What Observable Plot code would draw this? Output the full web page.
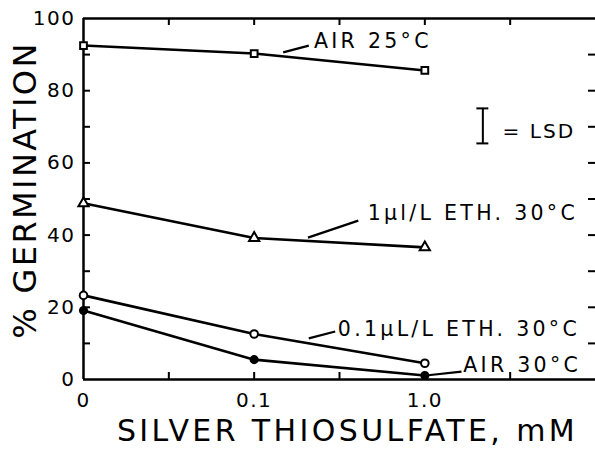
<!DOCTYPE html>
<html>
<head>
<meta charset="utf-8">
<script src="https://cdn.jsdelivr.net/npm/d3@7"></script>
<script src="https://cdn.jsdelivr.net/npm/@observablehq/plot@0.6"></script>
<style>
  html, body { margin: 0; padding: 0; background: #fff; }
  #chart svg { display: block; }
</style>
</head>
<body>
<div id="chart"></div>
<script>
// ---- data ----
const categories = ["0", "0.1", "1.0"];
const seriesNames = ["AIR 25°C", "1µl/L ETH. 30°C", "0.1µL/L ETH. 30°C", "AIR 30°C"];
const air25 = [92.5, 90.3, 85.6];
const eth1 = [48.8, 39.2, 36.6];
const eth01 = [23.3, 12.6, 4.5];
const air30 = [19.1, 5.5, 1.1];
const yLabelTicks = [0, 20, 40, 60, 80, 100];
const yMinorTicks = [10, 20, 30, 40, 50, 60, 70, 80, 90];
const xMinorTicks = [1, 2, 3, 4, 5];
// annotation labels (data units: category slot, % germination)
const labelX = [2.70, 3.33, 2.98, 4.45];
const labelY = [93.6, 46.0, 13.9, 3.9];
const leaderX1 = [2.34, 2.63, 2.64, 4.01];
const leaderY1 = [90.6, 39.3, 11.4, 1.1];
const leaderX2 = [2.64, 3.22, 2.95, 4.43];
const leaderY2 = [92.5, 44.0, 13.3, 2.2];
const lsd = {x: 4.68, low: 65.4, high: 75.1, textX: 4.91, textY: 68.7};

// ---- build ----
const allSeries = [air25, eth1, eth01, air30];
const rows = allSeries.flatMap((vals, s) =>
  vals.map((v, i) => ({series: seriesNames[s], slot: 2 * i, value: v}))
);
const labels = seriesNames.map((t, i) => ({text: t, x: labelX[i], y: labelY[i]}));
const leaders = seriesNames.map((t, i) => ({x1: leaderX1[i], y1: leaderY1[i], x2: leaderX2[i], y2: leaderY2[i]}));
const symbols = {"AIR 25°C": "square", "1µl/L ETH. 30°C": "triangle", "0.1µL/L ETH. 30°C": "circle", "AIR 30°C": "circle"};

const width = 595, height = 454;
const margin = {left: 83, right: 0, top: 18, bottom: 75};
const innerW = width - margin.left - margin.right;
const innerH = height - margin.top - margin.bottom;
const tick = 7;

const chart = Plot.plot({
  width, height,
  marginLeft: margin.left, marginRight: margin.right, marginTop: margin.top, marginBottom: margin.bottom,
  style: {fontFamily: "DejaVu Sans", background: "#fff", color: "#000", overflow: "visible"},
  x: {domain: [0, 6], label: null},
  y: {domain: [0, 100], label: null},
  marks: [
    // frame
    Plot.ruleX([0], {stroke: "#000", strokeWidth: 2.5}),
    Plot.ruleY([0, 100], {stroke: "#000", strokeWidth: 2.5}),
    // inward ticks
    Plot.tickY(yMinorTicks, {y: d => d, insetRight: innerW - tick, strokeWidth: 2}),
    Plot.tickY(yMinorTicks, {y: d => d, insetLeft: innerW - tick, strokeWidth: 2}),
    Plot.tickX(xMinorTicks, {x: d => d, insetTop: innerH - tick, strokeWidth: 2}),
    Plot.tickX(xMinorTicks, {x: d => d, insetBottom: innerH - tick, strokeWidth: 2}),
    // tick labels
    Plot.axisY(yLabelTicks, {tickSize: 0, tickPadding: 8, fontSize: 20, label: null}),
    Plot.axisX([0, 2, 4], {tickSize: 0, tickPadding: 13, fontSize: 20, label: null, tickFormat: d => categories[d / 2]}),
    // series
    Plot.line(rows, {x: "slot", y: "value", z: "series", stroke: "#000", strokeWidth: 2.6}),
    Plot.dot(rows.filter(d => d.series !== "AIR 30°C"), {
      x: "slot", y: "value", symbol: d => symbols[d.series], r: 3.8,
      stroke: "#000", strokeWidth: 2, fill: "#fff"
    }),
    Plot.dot(rows.filter(d => d.series === "AIR 30°C"), {
      x: "slot", y: "value", symbol: "circle", r: 3.8, fill: "#000", stroke: "#000"
    }),
    // leaders and labels
    Plot.link(leaders, {x1: "x1", y1: "y1", x2: "x2", y2: "y2", stroke: "#000", strokeWidth: 2.2}),
    Plot.text(labels, {x: "x", y: "y", text: "text", textAnchor: "start", fontSize: 20.5, fill: "#000"}),
    // LSD bar
    Plot.ruleX([lsd], {x: "x", y1: "low", y2: "high", strokeWidth: 2}),
    Plot.ruleY([lsd], {y: "low", x1: d => d.x - 0.07, x2: d => d.x + 0.07, strokeWidth: 2}),
    Plot.ruleY([lsd], {y: "high", x1: d => d.x - 0.07, x2: d => d.x + 0.07, strokeWidth: 2}),
    Plot.text([lsd], {x: "textX", y: "textY", text: () => "= LSD", textAnchor: "start", fontSize: 20.1, fill: "#000"}),
    // axis titles
    Plot.text(["SILVER THIOSULFATE, mM"], {frameAnchor: "bottom", textAnchor: "middle", dx: 8, dy: 61, fontSize: 30, fill: "#000"}),
    Plot.text(["% GERMINATION"], {frameAnchor: "left", textAnchor: "middle", rotate: -90, dx: -58, dy: -9, fontSize: 32, fill: "#000"})
  ]
});

// letter spacing to mimic the plotter lettering
const spacing = {"20.5": "3.3px", "20.1": "2px", "30": "3.4px", "32": "2.4px", "20": "1.5px"};
d3.select(chart).selectAll("g").each(function() {
  const fs = this.getAttribute("font-size");
  if (fs && spacing[fs]) this.style.letterSpacing = spacing[fs];
});
document.getElementById("chart").appendChild(chart);
</script>
</body>
</html>
